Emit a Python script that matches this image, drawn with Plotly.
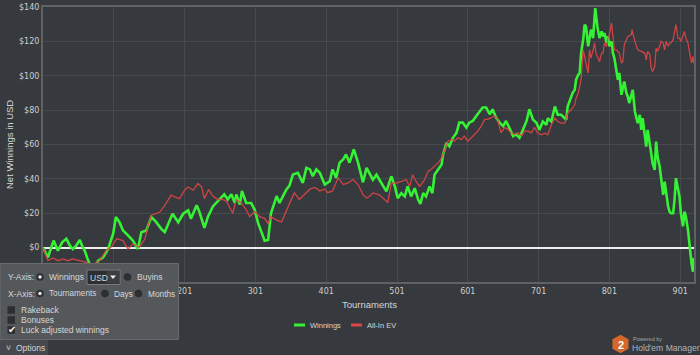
import plotly.graph_objects as go

# ---------------- data ----------------
win_t = [1, 8, 16, 22, 28, 34, 39, 43, 48, 53, 57, 60, 64, 67, 72, 79, 86, 93, 100, 104,
         109, 114, 119, 123, 128, 135, 140, 147, 154, 161, 168, 173, 180, 184, 192, 199, 206, 210, 218, 222,
         229, 234, 241, 246, 253, 257, 262, 267, 272, 274, 279, 282, 288, 295, 300, 305, 312, 314, 319, 323,
         331, 335, 340, 345, 349, 354, 361, 368, 373, 378, 382, 387, 392, 399, 406, 410, 415, 420, 425, 429,
         434, 440, 446, 453, 458, 462, 467, 472, 476, 481, 486, 493, 498, 502, 507, 512, 516, 521, 526, 531,
         534, 538, 542, 547, 551, 554, 559, 564, 566, 571, 575, 580, 585, 589, 594, 599, 603, 608, 613, 618,
         622, 627, 632, 636, 641, 646, 651, 655, 660, 665, 669, 674, 679, 684, 688, 693, 698, 702, 707, 712,
         714, 719, 724, 728, 733, 738, 740, 742, 747, 749, 752, 754, 757, 759, 761, 764, 766, 768, 771, 773,
         775, 778, 780, 781, 784, 787, 790, 792, 794, 797, 799, 801, 804, 806, 808, 811, 813, 815, 818, 820,
         822, 825, 827, 829, 832, 834, 837, 839, 841, 844, 846, 848, 851, 853, 855, 858, 860, 862, 865, 867,
         869, 872, 874, 877, 879, 881, 884, 886, 888, 891, 893, 895, 898, 900, 902, 905, 907, 909, 912, 914,
         917, 919, 920]
win_v = [0, -5.7, 4.1, -1.8, 3.1, 5.1, 1.2, -0.8, 1.2, 4.5, 0.2, -1.8, -6.6, -9.6, -13, -7.6, -5.7, -0.8, 8, 17.8,
         14.8, 10, 8, 6, 4.1, -0.8, 9, 10, 17.8, 14.8, 10.9, 9, 15.8, 19.7, 14.8, 19.7, 21.7, 16.8, 24.6, 20.7,
         11.5, 18, 24, 26, 29, 31, 28, 31, 26, 31, 25, 33, 26, 26, 22, 14, 6.4, 4, 4.5, 20,
         30, 26, 30, 34, 36, 42.5, 43.5, 37.7, 46.4, 45.5, 41.6, 45.5, 43.5, 36.7, 38.6, 45.5, 40.6, 49.4, 51.3, 54.2,
         49.4, 57.2, 49.4, 38, 46.4, 43, 39.5, 42.4, 39.5, 35.6, 32.7, 41.5, 35.6, 28.8, 31.7, 29.8, 35.6, 29.8, 34.6, 27.8,
         25.5, 31.7, 29.8, 35.6, 31.7, 42.4, 45.4, 48.3, 54.1, 61, 59, 63.9, 66.8, 72.7, 72.7, 69.8, 72.7, 73.7, 76.6, 79.5,
         81.5, 81.5, 77.6, 80.5, 75.6, 72.7, 70.7, 73.7, 68.8, 64.9, 65.9, 63.9, 68.8, 73.7, 80.5, 74.6, 72.7, 68.5, 73.4, 71.5,
         75.3, 73.4, 82.1, 77.3, 77.3, 75.3, 74.4, 82.1, 88, 89.9, 91.8, 97.7, 100.6, 101.6, 113.2, 121, 129.7, 128.7, 117.1, 121,
         126.8, 121.9, 136.5, 139.4, 128.7, 121.9, 125.8, 122.9, 124.9, 119, 122.9, 117.1, 120, 113.2, 110.3, 103.5, 97.7, 101.6, 88.9, 92.8,
         96.7, 89.9, 88, 84.1, 89.9, 91.8, 79.2, 76.3, 72.4, 77.3, 68.5, 75.3, 66.6, 58.8, 68.5, 61.7, 55, 49.1, 45.2, 61.7,
         53, 47.2, 40.4, 30.7, 38.4, 31.7, 23.9, 21, 20, 20, 27.8, 40.4, 33.6, 29.7, 20, 12.4, 21, 18.1, 10.3, 0.6,
         -9.1, -14, -6]

ev_t = [1, 8, 15, 22, 29, 36, 43, 53, 62, 71, 81, 90, 97, 105, 114, 121, 128, 137, 145, 149,
        154, 159, 166, 173, 177, 182, 187, 194, 201, 206, 213, 220, 225, 229, 235, 241, 248, 255, 260, 265,
        269, 274, 281, 288, 293, 300, 307, 314, 319, 323, 331, 338, 345, 352, 356, 363, 370, 378, 385, 392,
        399, 403, 410, 418, 425, 432, 439, 446, 453, 458, 462, 467, 476, 483, 488, 493, 500, 507, 514, 519,
        523, 528, 533, 540, 545, 549, 554, 559, 564, 568, 573, 578, 582, 587, 592, 596, 601, 606, 611, 615,
        620, 625, 629, 634, 639, 643, 648, 653, 658, 662, 667, 672, 677, 681, 686, 691, 695, 700, 705, 710,
        714, 719, 724, 728, 733, 738, 742, 747, 752, 754, 757, 761, 764, 766, 768, 771, 773, 775, 778, 780,
        782, 787, 790, 792, 794, 797, 799, 801, 804, 806, 808, 811, 813, 815, 818, 820, 822, 827, 832, 833,
        837, 839, 841, 846, 851, 853, 855, 858, 860, 862, 865, 867, 869, 872, 874, 877, 879, 881, 884, 886,
        888, 891, 893, 895, 898, 900, 902, 905, 907, 909, 912, 914, 917, 919, 920]
ev_v = [0, -7.6, -6, -7.6, -6.6, -7.6, -6.6, -7.6, -8.6, -10, -7.6, -1.8, 0.2, 5.1, 4.1, -0.8, 2.1, 0.2, 5.1, 11.9,
        18.7, 19.7, 20.7, 24.6, 27.5, 30.5, 29.5, 28.5, 33.4, 35.3, 33.4, 37.3, 35.3, 28.5, 33.8, 30, 28, 28, 27, 23,
        20, 28, 26, 22, 18, 21, 18, 17, 14, 18, 16, 15, 22, 29, 32, 28, 31, 34, 35, 33,
        34, 32, 33, 40.6, 36.7, 37.7, 39.6, 36.7, 30.8, 28.9, 29.9, 31.8, 30.7, 27.8, 26.2, 37.6, 37.6, 38.5, 39.5, 35.6,
        42.4, 38.5, 35.6, 39.5, 44.4, 45.4, 47.3, 49.3, 52.2, 57.1, 61.9, 62.9, 61.9, 63.9, 62.9, 64.9, 61.9, 63.9, 65.9, 67.8,
        70.7, 74.6, 74.6, 75.6, 76.6, 74.6, 66.8, 69.8, 68.8, 66.8, 65.9, 66.8, 64.9, 67.8, 67.8, 66.8, 70, 66.6, 65.6, 66.6,
        65.6, 71.5, 75.3, 73.4, 72.4, 72.4, 78.3, 80.2, 83.1, 87, 89.9, 97.7, 115.1, 111.3, 106.4, 101.6, 115.1, 110.3, 115.1, 119,
        113.2, 108.3, 113.2, 113.2, 119, 117.1, 121.9, 123.9, 130.7, 122.9, 115.1, 115.1, 114.2, 113.2, 107.4, 108.3, 118, 122.9, 123.9, 126.8,
        120, 118, 115.1, 114.2, 113.2, 109.3, 114.2, 112.5, 104.5, 102.5, 105.4, 116.1, 114.2, 117.1, 120, 119, 115.1, 120, 117.1, 119,
        119, 121, 124.9, 129.7, 121.9, 121.9, 120, 123.9, 125.8, 121.9, 119, 114.2, 107.4, 111.3, 107.4]

y_ticks = [0, 20, 40, 60, 80, 100, 120, 140]
x_ticks = [1, 101, 201, 301, 401, 501, 601, 701, 801, 901]
# the labels "1" and "101" sit behind the options panel in the original, so they are left blank
x_ticktext = ["", "", "201", "301", "401", "501", "601", "701", "801", "901"]

# ---------------- styling ----------------
BG = "#36393d"
GRID = "#46494d"
GREEN = "#35f235"
RED = "#dc4444"
TXT = "#d6d6d6"
FONT = "Liberation Sans, Arial, sans-serif"

W, H = 700, 355
PL, PR, PT, PB = 43, 694, 7, 282


def px(x):
    return (x - PL) / (PR - PL)


def py(y):
    return (PB - y) / (PB - PT)


fig = go.Figure()
fig.add_trace(go.Scatter(x=win_t, y=win_v, mode="lines", name="Winnings",
                         line=dict(color=GREEN, width=2.6), showlegend=False, hoverinfo="skip"))
fig.add_trace(go.Scatter(x=ev_t, y=ev_v, mode="lines", name="All-In EV",
                         line=dict(color=RED, width=1.3), opacity=0.92, showlegend=False, hoverinfo="skip"))

shapes = []
annotations = []


def text(x, y, s, size=8.5, color=TXT, anchor="left", family=FONT, **kw):
    annotations.append(dict(x=px(x), y=py(y), xref="paper", yref="paper", text=s, showarrow=False,
                            xanchor=anchor, yanchor="middle", borderpad=0,
                            font=dict(size=size, color=color, family=family), **kw))


def rect(x0, y0, x1, y1, fill, line=None, lw=0):
    shapes.append(dict(type="rect", xref="paper", yref="paper", x0=px(x0), x1=px(x1), y0=py(y1), y1=py(y0),
                       fillcolor=fill, line=dict(color=line or fill, width=lw), layer="above"))


def circle(cx, cy, r, fill, line=None, lw=0):
    shapes.append(dict(type="circle", xref="paper", yref="paper", x0=px(cx - r), x1=px(cx + r),
                       y0=py(cy + r), y1=py(cy - r), fillcolor=fill,
                       line=dict(color=line or fill, width=lw), layer="above"))


def hline(x0, x1, y, color, w):
    shapes.append(dict(type="line", xref="paper", yref="paper", x0=px(x0), x1=px(x1), y0=py(y), y1=py(y),
                       line=dict(color=color, width=w), layer="above"))


# axis titles
text(369, 304, "Tournaments", size=9.5, anchor="center")
text(9.5, 144.5, "Net Winnings in USD", size=9.5, anchor="center", textangle=-90)

# legend (manual)
hline(294, 305, 325, GREEN, 3)
text(309, 325, "Winnings", size=7.5)
hline(351, 362, 325, RED, 3)
text(366, 325, "All-In EV", size=7.5)

# options panel
rect(0, 263.5, 178.5, 339.5, "#55585b", "#686b6e", 1)
rect(0, 340, 48, 355, "#45484c")
text(5, 347.5, "˅", size=8.5)
text(15, 347.5, "Options", size=8.5)

DARK = "#2c2f32"
text(7, 277, "Y-Axis:")
circle(40, 277, 3.8, DARK)
circle(40, 277, 1.7, "#f0f0f0")
text(48, 277, "Winnings")
rect(87, 270, 120, 284.5, DARK, "#7a7d80", 1)
rect(106.5, 271, 119.5, 283.5, "#3c3f42", "#3c3f42", 0)
shapes.append(dict(type="path", xref="paper", yref="paper",
                   path="M %f %f L %f %f L %f %f Z" % (px(110), py(275.5), px(116), py(275.5), px(113), py(279)),
                   fillcolor="#f0f0f0", line=dict(color="#f0f0f0", width=0), layer="above"))
text(89, 277.5, "USD")
circle(127.5, 277, 3.8, DARK)
text(136, 277, "Buyins")

text(7, 293.5, "X-Axis:")
circle(40, 293.5, 3.8, DARK)
circle(40, 293.5, 1.7, "#f0f0f0")
text(48, 293.5, "Tournaments", size=8.2)
circle(105, 293.5, 3.8, DARK)
text(113, 293.5, "Days", size=8.3)
circle(138.5, 293.5, 3.8, DARK)
text(146.5, 293.5, "Months", size=8.3)

for yy, label in [(310, "Rakeback"), (320, "Bonuses"), (330, "Luck adjusted winnings")]:
    rect(7.5, yy - 3.8, 15, yy + 3.8, DARK)
    text(19.5, yy, label)
text(7, 329.5, "✔", size=10, color="#f4f4f4", family="DejaVu Sans")

# logo
cx, cy, r = 620.5, 344, 9.3
pts = [(cx, cy - r), (cx - 0.866 * r, cy - r / 2), (cx - 0.866 * r, cy + r / 2),
       (cx, cy + r), (cx + 0.866 * r, cy + r / 2), (cx + 0.866 * r, cy - r / 2)]
path = "M " + " L ".join("%f %f" % (px(a), py(b)) for a, b in pts) + " Z"
shapes.append(dict(type="path", xref="paper", yref="paper", path=path, fillcolor="#d4672a",
                   line=dict(color="#d4672a", width=0), layer="above"))
text(620.5, 344.5, "<b>2</b>", size=11, color="#ffffff", anchor="center")
text(631.5, 338.5, "Powered by", size=5.5, color="#a8a8a8")
text(631, 348.5, "Hold'em Manager", size=8.6, color="#b4b4b4")

fig.update_layout(
    width=W, height=H,
    margin=dict(l=PL, r=W - PR, t=PT, b=H - PB, autoexpand=False),
    paper_bgcolor=BG, plot_bgcolor=BG,
    showlegend=False, hovermode=False,
    shapes=shapes, annotations=annotations,
    font=dict(family=FONT, color=TXT),
    xaxis=dict(range=[1, 920.5], tickvals=x_ticks, ticktext=x_ticktext,
               showgrid=True, gridcolor=GRID, gridwidth=1, zeroline=False,
               showline=True, linecolor="#5e6165", linewidth=2, mirror=True,
               tickfont=dict(family="DejaVu Sans", size=8, color="#cfcfcf"), ticks="", ticklen=0),
    yaxis=dict(range=[-20, 140], tickvals=y_ticks, ticktext=["$%d" % v for v in y_ticks],
               showgrid=True, gridcolor=GRID, gridwidth=1,
               zeroline=True, zerolinecolor="#eeeeee", zerolinewidth=2,
               showline=True, linecolor="#5e6165", linewidth=2, mirror=True,
               tickfont=dict(family="DejaVu Sans", size=8, color="#cfcfcf"), ticks="", ticklen=0),
)

fig.write_html("out.html", config={"displayModeBar": False, "staticPlot": True})

# remove the default page margin so the figure sits at the window's top-left corner
with open("out.html", "r", encoding="utf-8") as f:
    html = f.read()
html = html.replace("<head>", "<head><style>html,body{margin:0;padding:0;overflow:hidden;background:%s}</style>" % BG, 1)
with open("out.html", "w", encoding="utf-8") as f:
    f.write(html)
